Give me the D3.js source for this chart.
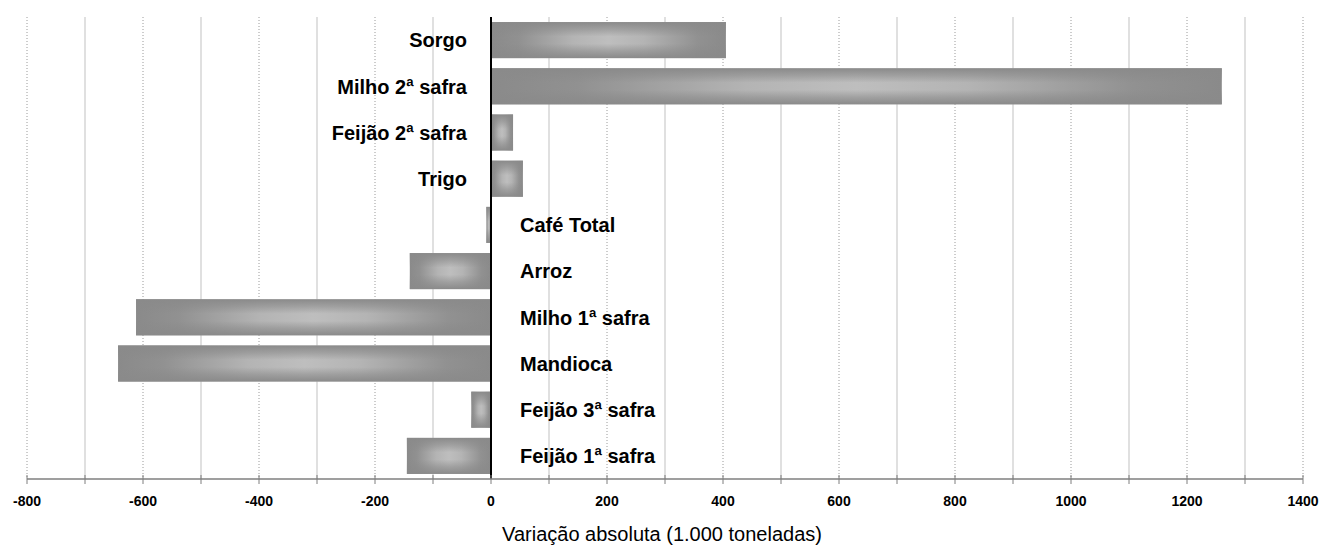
<!DOCTYPE html>
<html>
<head>
<meta charset="utf-8">
<script src="https://cdn.jsdelivr.net/npm/d3@7"></script>
<style>
  body { margin: 0; background: #fff; }
  text { font-family: "Liberation Sans", Arial, sans-serif; }
</style>
</head>
<body>
<svg id="chart" width="1323" height="545"></svg>
<script>
// Data
const categories = ['Sorgo', 'Milho 2ª safra', 'Feijão 2ª safra', 'Trigo', 'Café Total',
  'Arroz', 'Milho 1ª safra', 'Mandioca', 'Feijão 3ª safra', 'Feijão 1ª safra'];
const values = [405, 1260, 38, 55, -8, -140, -612, -643, -34, -145];
const tickLabels = [-800, -600, -400, -200, 0, 200, 400, 600, 800, 1000, 1200, 1400];
const axisTitle = 'Variação absoluta (1.000 toneladas)';

const svg = d3.select('#chart');

// Scales
const plotTop = 17, plotBottom = 479;
const x = d3.scaleLinear().domain([-800, 1400]).range([27, 1303]);
const y = d3.scaleBand().domain(categories).range([plotTop, plotBottom]).paddingInner(0.22).paddingOuter(0.11);

// Gradients for the bars
const defs = svg.append('defs');
const hGrad = defs.append('linearGradient').attr('id', 'hgrad');
[[0, '#8a8a8a'], [0.12, '#919191'], [0.35, '#b4b4b4'], [0.5, '#bebebe'], [0.65, '#b4b4b4'], [0.88, '#919191'], [1, '#8a8a8a']]
  .forEach(s => hGrad.append('stop').attr('offset', s[0]).attr('stop-color', s[1]));
const vGrad = defs.append('linearGradient').attr('id', 'vgrad')
  .attr('x1', 0).attr('y1', 0).attr('x2', 0).attr('y2', 1);
[[0, 1], [0.2, 0.55], [0.4, 0], [0.6, 0], [0.8, 0.55], [1, 1]]
  .forEach(s => vGrad.append('stop').attr('offset', s[0]).attr('stop-color', '#8a8a8a').attr('stop-opacity', s[1]));

// Gridlines
const gridVals = d3.range(-800, 1401, 100).filter(d => d !== 0);
svg.append('g').selectAll('line')
  .data(gridVals)
  .enter().append('line')
  .attr('x1', d => x(d)).attr('x2', d => x(d))
  .attr('y1', plotTop).attr('y2', plotBottom)
  .attr('stroke', d => d % 200 === 0 ? '#9a9a9a' : '#d6d6d6')
  .attr('stroke-width', d => d % 200 === 0 ? 1 : 1.5)
  .attr('stroke-dasharray', d => d % 200 === 0 ? '1,2' : null);

// Bars
const bars = svg.append('g').selectAll('g')
  .data(categories)
  .enter().append('g');
bars.append('rect')
  .attr('x', (d, i) => x(Math.min(0, values[i])))
  .attr('y', d => y(d))
  .attr('width', (d, i) => Math.abs(x(values[i]) - x(0)))
  .attr('height', y.bandwidth())
  .attr('fill', 'url(#hgrad)');
bars.append('rect')
  .attr('x', (d, i) => x(Math.min(0, values[i])))
  .attr('y', d => y(d))
  .attr('width', (d, i) => Math.abs(x(values[i]) - x(0)))
  .attr('height', y.bandwidth())
  .attr('fill', 'url(#vgrad)');

// Category labels
svg.append('g').selectAll('text')
  .data(categories)
  .enter().append('text')
  .attr('x', (d, i) => values[i] >= 0 ? x(0) - 24 : x(0) + 29)
  .attr('y', d => y(d) + y.bandwidth() / 2)
  .attr('dy', '0.36em')
  .attr('text-anchor', (d, i) => values[i] >= 0 ? 'end' : 'start')
  .attr('font-size', 20)
  .attr('font-weight', 'bold')
  .attr('fill', '#000')
  .text(d => d);

// Zero line
svg.append('line')
  .attr('x1', x(0)).attr('x2', x(0))
  .attr('y1', plotTop).attr('y2', plotBottom)
  .attr('stroke', '#000').attr('stroke-width', 2);

// X axis
const axis = svg.append('g');
axis.append('line')
  .attr('x1', x(-800)).attr('x2', x(1400))
  .attr('y1', plotBottom).attr('y2', plotBottom)
  .attr('stroke', '#7f7f7f').attr('stroke-width', 1.5);
axis.selectAll('.tick')
  .data(d3.range(-800, 1401, 100))
  .enter().append('line')
  .attr('class', 'tick')
  .attr('x1', d => x(d)).attr('x2', d => x(d))
  .attr('y1', plotBottom - 4).attr('y2', plotBottom + 5)
  .attr('stroke', '#7f7f7f').attr('stroke-width', 1);
axis.selectAll('.tick-label')
  .data(tickLabels)
  .enter().append('text')
  .attr('class', 'tick-label')
  .attr('x', d => x(d))
  .attr('y', plotBottom + 27)
  .attr('text-anchor', 'middle')
  .attr('font-size', 14)
  .attr('font-weight', 'bold')
  .text(d => String(d));

// Axis title
svg.append('text')
  .attr('x', 662)
  .attr('y', 541)
  .attr('text-anchor', 'middle')
  .attr('font-size', 20)
  .text(axisTitle);
</script>
</body>
</html>
